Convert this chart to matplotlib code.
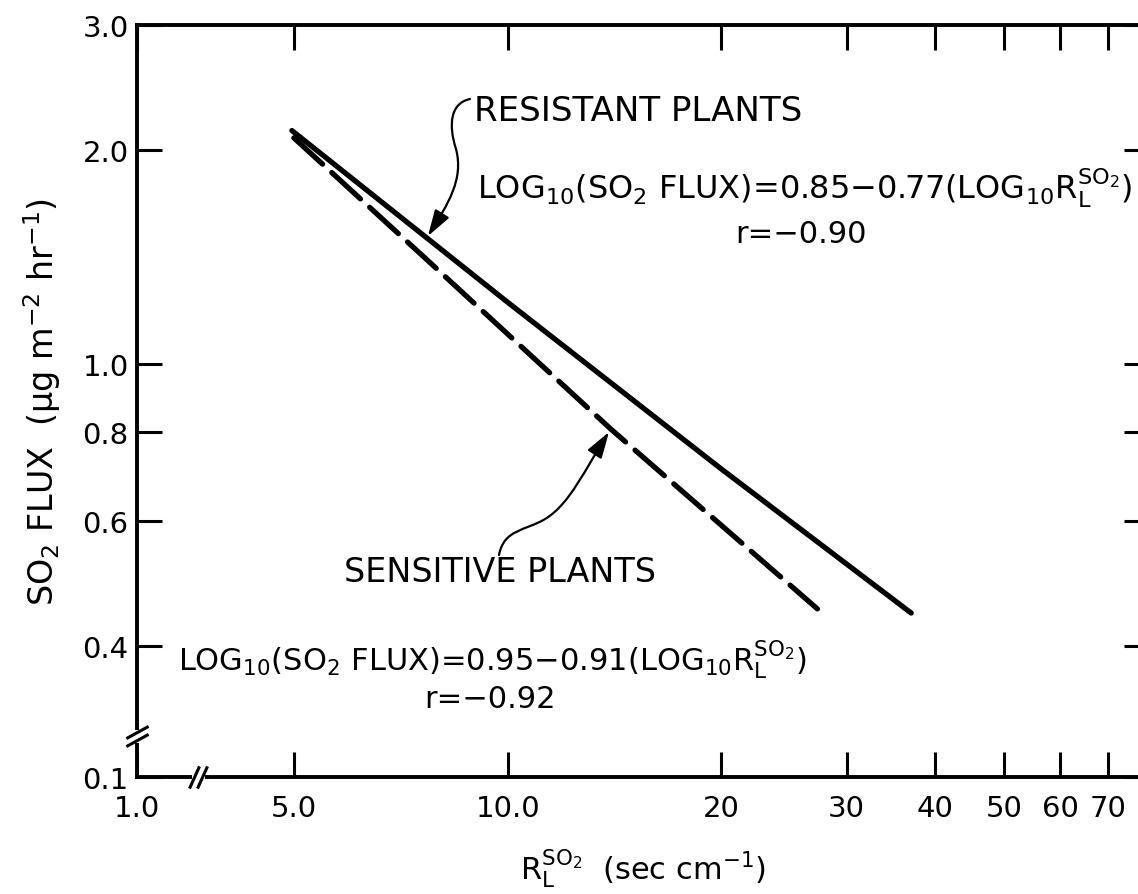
import numpy as np
import matplotlib
matplotlib.use('Agg')
import matplotlib.pyplot as plt
from matplotlib.path import Path
from matplotlib.patches import FancyArrowPatch
from matplotlib.transforms import blended_transform_factory

plt.rcParams['font.family'] = ['DejaVu Sans']
plt.rcParams['mathtext.default'] = 'regular'
plt.rcParams['lines.scale_dashes'] = False

# leaf resistance (sec cm^-1) and SO2 flux (ug m^-2 hr^-1)
resist_r = [4.9, 10.0, 20.0, 37.0]
resist_flux = [2.13, 1.22, 0.71, 0.445]
sens_r = [5.0, 7.7, 14.0, 27.3]
sens_flux = [2.08, 1.40, 0.807, 0.451]

x_ticks = [1.0, 5.0, 10.0, 20, 30, 40, 50, 60, 70]
x_labels = ['1.0', '5.0', '10.0', '20', '30', '40', '50', '60', '70']
y_ticks = [0.1, 0.4, 0.6, 0.8, 1.0, 2.0, 3.0]
y_labels = ['0.1', '0.4', '0.6', '0.8', '1.0', '2.0', '3.0']

eq_resist = r'LOG$_{10}$(SO$_2$ FLUX)=0.85$-$0.77(LOG$_{10}$$R_L^{SO_2}$)'
eq_sens = r'LOG$_{10}$(SO$_2$ FLUX)=0.95$-$0.91(LOG$_{10}$$R_L^{SO_2}$)'
r_resist = 'r=\u22120.90'
r_sens = 'r=\u22120.92'

# log axes, with the stretch below the break squeezed
X_BRK, KX = np.log10(5.0), 0.316
Y_BRK, KY = np.log10(0.4), 0.307


def make_scale(brk, k):
    def fwd(v):
        lv = np.log10(np.clip(np.asarray(v, dtype=float), 1e-9, None))
        return np.where(lv >= brk, lv, brk - k * (brk - lv))

    def inv(v):
        v = np.asarray(v, dtype=float)
        return 10 ** np.where(v >= brk, v, brk - (brk - v) / k)
    return fwd, inv


fig = plt.figure(figsize=(11.38, 8.95), dpi=100)
ax = fig.add_axes([0.1204, 0.1307, 0.8893, 0.8402])
ax.set_xscale('function', functions=make_scale(X_BRK, KX))
ax.set_yscale('function', functions=make_scale(Y_BRK, KY))
ax.set_xlim(1.0, 80)
ax.set_ylim(0.1, 3.0)

ax.plot(resist_r, resist_flux, color='black', lw=3.8, solid_capstyle='round')
ax.plot(sens_r, sens_flux, color='black', lw=3.8, dashes=(28, 9),
        dash_capstyle='round')

ax.set_xticks(x_ticks)
ax.set_xticklabels(x_labels)
ax.set_yticks(y_ticks)
ax.set_yticklabels(y_labels)
ax.xaxis.set_minor_locator(plt.NullLocator())
ax.yaxis.set_minor_locator(plt.NullLocator())
ax.tick_params(which='both', direction='in', length=18, width=2.2,
               top=True, right=True, labelsize=21)
ax.tick_params(axis='x', pad=12)
ax.tick_params(axis='y', pad=6)
for s in ax.spines.values():
    s.set_linewidth(2.8)

ax.set_xlabel(r'$R_L^{SO_2}$  (sec cm$^{-1}$)', fontsize=22, labelpad=18)
ax.set_ylabel(r'SO$_2$ FLUX  ($\mu$g m$^{-2}$ hr$^{-1}$)', fontsize=24,
              labelpad=14)

# axis break marks
bx = blended_transform_factory(ax.transData, ax.transAxes)
by = blended_transform_factory(ax.transAxes, ax.transData)
ax.plot([1.81, 1.93], [0, 0], color='white', lw=5, transform=bx,
        clip_on=False, zorder=3)
ax.plot([1.79, 1.95], [0, 0], transform=bx, ls='none',
        marker=[(-0.45, -1), (0.45, 1)], ms=16, mew=2.2, mec='black',
        clip_on=False, zorder=4)
ax.plot([0, 0], [0.150, 0.159], color='white', lw=5, transform=by,
        clip_on=False, zorder=3)
ax.plot([0, 0], [0.148, 0.161], transform=by, ls='none',
        marker=[(-1, -0.55), (1, 0.55)], ms=16, mew=2.2, mec='black',
        clip_on=False, zorder=4)

# labels and equations
ax.text(0.333, 0.886, 'RESISTANT PLANTS', transform=ax.transAxes,
        fontsize=24.5, ha='left', va='center')
ax.text(0.660, 0.770, eq_resist, transform=ax.transAxes, fontsize=23,
        ha='center', va='baseline')
ax.text(0.656, 0.711, r_resist, transform=ax.transAxes, fontsize=22,
        ha='center', va='baseline')
ax.text(0.359, 0.273, 'SENSITIVE PLANTS', transform=ax.transAxes,
        fontsize=24, ha='center', va='center')
ax.text(0.351, 0.142, eq_sens, transform=ax.transAxes, fontsize=22,
        ha='center', va='baseline')
ax.text(0.349, 0.093, r_sens, transform=ax.transAxes, fontsize=22,
        ha='center', va='baseline')

# wavy pointer arrows
codes = [Path.MOVETO, Path.CURVE4, Path.CURVE4, Path.CURVE4,
         Path.CURVE4, Path.CURVE4, Path.CURVE4]
resist_path = Path([(0.3290, 0.9016), (0.3100, 0.8963), (0.3073, 0.8684),
                    (0.3152, 0.8351), (0.3231, 0.7952), (0.3073, 0.7620),
                    (0.2875, 0.7194)], codes)
sens_path = Path([(0.3577, 0.2952), (0.3626, 0.3298), (0.3834, 0.3271),
                  (0.4032, 0.3431), (0.4279, 0.3630), (0.4427, 0.4096),
                  (0.4664, 0.4588)], codes)
for p in (resist_path, sens_path):
    arr = FancyArrowPatch(path=p, arrowstyle='-|>,head_length=0.8,head_width=0.25',
                          mutation_scale=20, lw=1.6, color='black',
                          transform=ax.transAxes)
    ax.add_patch(arr)

fig.savefig('out.png', dpi=100)
